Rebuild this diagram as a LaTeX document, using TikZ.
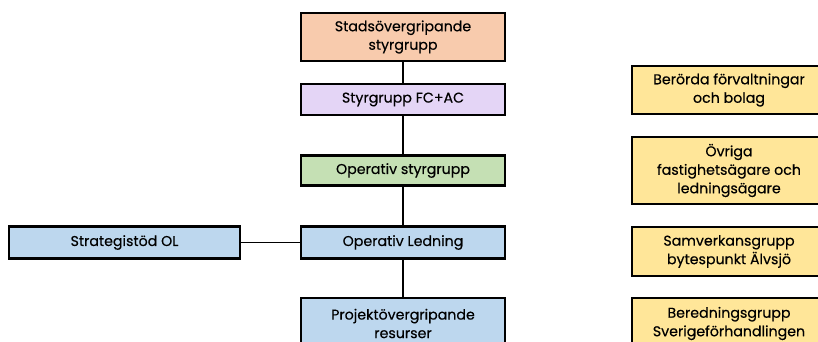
\documentclass[tikz,border=0pt]{standalone}
\usepackage{fontspec}
\setmainfont{Poppins}
\newfontfamily\orgfont{Poppins}[FakeBold=0.35]
\usepackage{tikz}
\usepackage{xcolor}
\definecolor{stad orange}{HTML}{F8CBAD}
\definecolor{fc purple}{HTML}{E4D5F6}
\definecolor{op green}{HTML}{C5E0B4}
\definecolor{led blue}{HTML}{BDD7EE}
\definecolor{part yellow}{HTML}{FFE699}

\begin{document}
\begin{tikzpicture}[x=1pt,y=-1pt,
		orgbox/.style={draw=black, line width=2.6pt, align=center, inner sep=0pt,
			font=\orgfont\fontsize{14.2}{18.5}\selectfont},
		midbox/.style={orgbox, minimum width=204pt},
		partbox/.style={orgbox, fill=part yellow, minimum width=194pt}]
			\useasboundingbox (0,0) rectangle (818,342);
			\node[midbox, fill=stad orange, minimum height=48pt] (stad) at (403, 37){Stadsövergripande\\styrgrupp};
			\node[midbox, fill=fc purple, minimum height=31pt] (fcac) at (403, 99.5){Styrgrupp FC+AC};
			\node[midbox, fill=op green, minimum height=29.5pt] (opstyr) at (403, 170.5){Operativ styrgrupp};
			\node[midbox, fill=led blue, minimum height=31.5pt] (opled) at (403, 242.5){Operativ Ledning};
			\node[midbox, fill=led blue, minimum height=51pt] (proj) at (403, 323.5){Projektövergripande\\resurser};
			\node[orgbox, fill=led blue, minimum width=231pt, minimum height=31.5pt] (strat) at (124.5, 242.5){Strategistöd OL};
			\node[partbox, minimum height=48pt] (berorda) at (729, 90){Berörda förvaltningar\\och bolag};
			\node[partbox, minimum height=67pt] (ovriga) at (729, 170.5){Övriga\\fastighetsägare och\\ledningsägare};
			\node[partbox, minimum height=49pt] (samverk) at (729, 251.5){Samverkansgrupp\\bytespunkt Älvsjö};
			\node[partbox, minimum height=51pt] (bered) at (729, 323.5){Beredningsgrupp\\Sverigeförhandlingen};
			\draw[line width=2.6pt] (stad) -- (fcac);
			\draw[line width=2.6pt] (fcac) -- (opstyr);
			\draw[line width=2.6pt] (opstyr) -- (opled);
			\draw[line width=2.6pt] (opled) -- (proj);
			\draw[line width=1.2pt] (strat) -- (opled);
		\end{tikzpicture}
\end{document}
